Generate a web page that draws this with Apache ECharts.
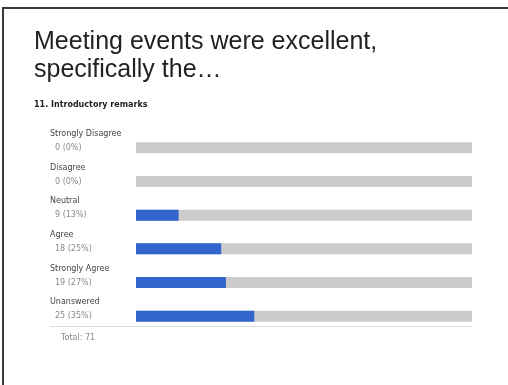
<!DOCTYPE html>
<html>
<head>
<meta charset="utf-8">
<script src="https://cdn.jsdelivr.net/npm/echarts@6/dist/echarts.min.js"></script>
<style>
  html, body { margin: 0; padding: 0; background: #fff; }
  #frame { position: absolute; left: 2px; top: 7px; width: 506px; height: 378px;
           border-left: 2px solid #3a3a3a; border-top: 2px solid #3a3a3a; }
  #chart { position: absolute; left: 0; top: 0; width: 508px; height: 385px; }
</style>
</head>
<body>
<div id="frame"></div>
<div id="chart"></div>
<script>
// Survey answers for "11. Introductory remarks"
const categories = ['Strongly Disagree', 'Disagree', 'Neutral', 'Agree', 'Strongly Agree', 'Unanswered'];
const counts = [0, 0, 9, 18, 19, 25];
const percents = [0, 0, 13, 25, 27, 35];

const total = counts.reduce((a, b) => a + b, 0);

const chart = echarts.init(document.getElementById('chart'), null, { renderer: 'canvas' });

const labelFont = 'DejaVu Sans, Verdana, sans-serif';

chart.setOption({
  animation: false,
  backgroundColor: 'transparent',
  title: [
    {
      text: 'Meeting events were excellent,\nspecifically the\u2026',
      left: 34,
      top: 28,
      padding: 0,
      textStyle: { fontFamily: 'Liberation Sans, Arial, sans-serif', fontSize: 25, lineHeight: 28, fontWeight: 'normal', color: '#222' }
    },
    {
      text: '11. Introductory remarks',
      left: 34,
      top: 101,
      padding: 0,
      textStyle: { fontFamily: labelFont, fontSize: 8, fontWeight: 'bold', color: '#222' }
    }
  ],
  grid: { left: 136, right: 36, top: 131, height: 202, containLabel: false },
  xAxis: {
    type: 'value',
    min: 0,
    max: total,
    show: false
  },
  yAxis: {
    type: 'category',
    inverse: true,
    data: categories,
    axisLine: { show: false },
    axisTick: { show: false },
    splitLine: { show: false },
    axisLabel: {
      interval: 0,
      hideOverlap: false,
      showMinLabel: true,
      showMaxLabel: true,
      align: 'left',
      margin: 86,
      formatter: function (value, idx) {
        return '{n|' + value + '}\n{c|' + counts[idx] + ' (' + percents[idx] + '%)}\n{e| }';
      },
      rich: {
        n: { fontFamily: labelFont, fontSize: 8, color: '#444', lineHeight: 14 },
        c: { fontFamily: labelFont, fontSize: 8, color: '#8a8a8a', lineHeight: 14, padding: [0, 0, 0, 5] },
        e: { fontSize: 8, lineHeight: 14 }
      }
    }
  },
  series: [
    {
      type: 'bar',
      data: counts,
      barWidth: 11,
      itemStyle: { color: '#3366cc' },
      showBackground: true,
      backgroundStyle: { color: '#cccccc' }
    }
  ],
  graphic: [
    {
      type: 'line',
      shape: { x1: 50, y1: 326.5, x2: 472, y2: 326.5 },
      style: { stroke: '#dddddd', lineWidth: 1 }
    },
    {
      type: 'text',
      left: 61,
      top: 334,
      style: { text: 'Total: ' + total, font: '8px ' + labelFont, fill: '#8a8a8a' }
    }
  ]
});
</script>
</body>
</html>
